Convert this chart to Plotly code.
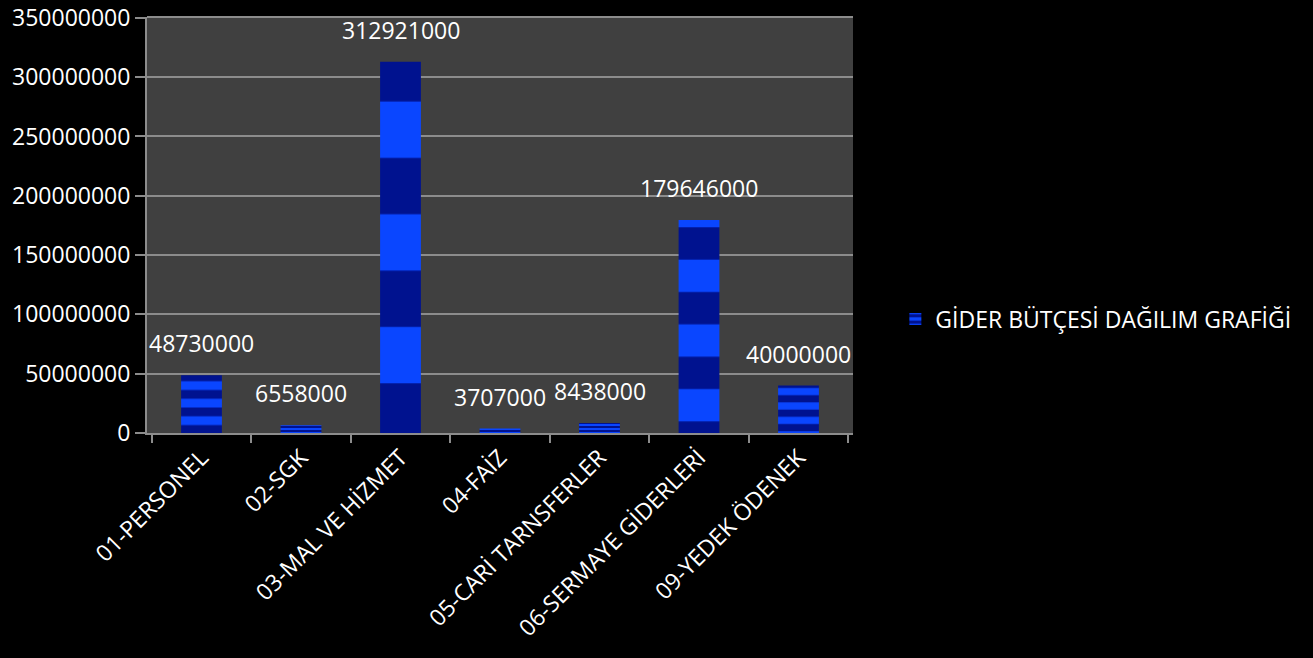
import plotly.graph_objects as go

categories = ["01-PERSONEL", "02-SGK", "03-MAL VE HİZMET", "04-FAİZ",
              "05-CARİ TARNSFERLER", "06-SERMAYE GİDERLERİ", "09-YEDEK ÖDENEK"]
values = [48730000, 6558000, 312921000, 3707000, 8438000, 179646000, 40000000]
series_name = "GİDER BÜTÇESİ DAĞILIM GRAFİĞİ"
y_ticks = [0, 50000000, 100000000, 150000000, 200000000, 250000000, 300000000, 350000000]

FONT = "Open Sans"
FS = 23
plot_h = 416
y_max = 350000000
# pattern band size roughly follows bar height (about three bands per bar)
pattern_sizes = [max(4, v / y_max * plot_h / 3.3) for v in values]

fig = go.Figure()
fig.add_trace(go.Bar(
    x=categories, y=values, name=series_name,
    marker=dict(
        color="#0a3cf0",
        line=dict(width=0),
        pattern=dict(shape="-", bgcolor="#0a46ff", fgcolor="#00128f",
                     size=pattern_sizes, solidity=0.5, fillmode="replace"),
    ),
    showlegend=True,
))

for c, v in zip(categories, values):
    fig.add_annotation(x=c, y=v, text=str(v), showarrow=False,
                       yanchor="bottom", yshift=14,
                       font=dict(family=FONT, size=FS, color="#ffffff"))

# top border of the plot area
fig.add_shape(type="line", xref="paper", yref="paper", x0=0, x1=1, y0=1, y1=1,
              line=dict(color="#8c8c8c", width=2))

fig.update_layout(
    width=1313, height=658,
    paper_bgcolor="#000000", plot_bgcolor="#404040",
    margin=dict(l=147, r=460, t=17, b=225, autoexpand=False),
    bargap=0.59,
    font=dict(family=FONT, size=FS, color="#ffffff"),
    legend=dict(x=1.06, y=0.274, xanchor="left", yanchor="middle",
                bgcolor="rgba(0,0,0,0)", font=dict(family=FONT, size=FS, color="#ffffff"),
                itemwidth=30),
    xaxis=dict(
        type="category", tickangle=-45, tickson="boundaries", automargin=False,
        ticks="outside", ticklen=8, tickcolor="#8c8c8c", tickwidth=2,
        showline=True, linecolor="#8c8c8c", linewidth=2,
        showgrid=False, tickfont=dict(family=FONT, size=FS, color="#ffffff"),
    ),
    yaxis=dict(
        range=[0, y_max * 1.002], tickvals=y_ticks, ticktext=[str(t) for t in y_ticks],
        automargin=False,
        ticks="outside", ticklen=10, tickcolor="#8c8c8c", tickwidth=2,
        showline=True, linecolor="#8c8c8c", linewidth=2,
        showgrid=True, gridcolor="#8c8c8c", gridwidth=2, zeroline=False,
        tickfont=dict(family=FONT, size=FS, color="#ffffff"),
    ),
)

fig.write_html("out.html", config={"displayModeBar": False},
               post_script="document.body.style.margin='0';document.body.style.background='#000';")
